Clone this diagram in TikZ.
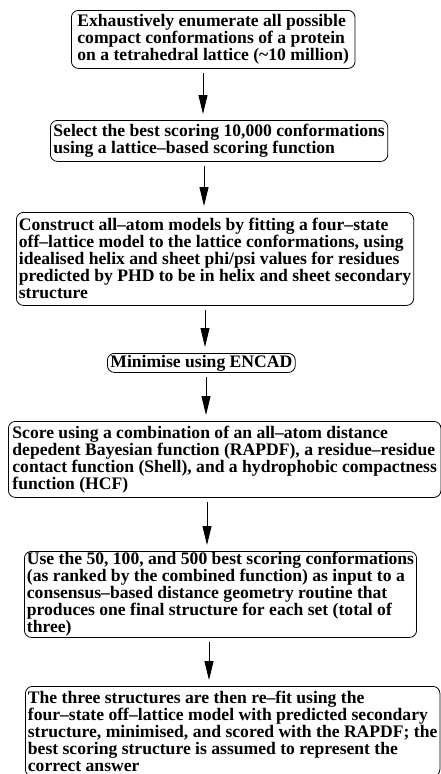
\documentclass[tikz,border=0pt]{standalone}
\usepackage{fontspec}
\setmainfont{Liberation Serif}
\usetikzlibrary{arrows.meta}

\begin{document}
\begin{tikzpicture}[x = 1pt, y = -1pt, > = {Triangle[length = 19pt, width = 9pt]},
	stage/.style = {draw, line width = 0.8pt, rounded corners = 7pt, align = left, anchor = north west, inner ysep = 0pt, font = \bfseries\fontsize{17.6}{17}\selectfont},
	flow/.style = {->, line width = 0.8pt, shorten < = 4pt, shorten > = 6pt}]

	\useasboundingbox (0, 0) rectangle (440, 774);

	% Lattice enumeration
	
	\node [stage, inner xsep = 6pt, minimum height = 58pt] (enumerate) at (71, 10)
		{Exhaustively enumerate all possible\\compact conformations of a protein\\on a tetrahedral lattice (\textasciitilde10 million)};
	
	\node [stage, inner xsep = 3pt, minimum height = 41pt] (select) at (50, 120)
		{Select the best scoring 10,000 conformations\\using a lattice--based scoring function};
	
	% All-atom models
	
	\node [stage, inner xsep = 2.5pt, minimum height = 93pt] (construct) at (16, 212)
		{Construct all--atom models by fitting a four--state\\off--lattice model to the lattice conformations, using\\idealised helix and sheet phi/psi values for residues\\predicted by PHD to be in helix and sheet secondary\\structure};
	
	\node [stage, inner xsep = 3pt, minimum height = 19pt] (minimise) at (107, 353)
		{Minimise using ENCAD};
	
	% Scoring and consensus
	
	\node [stage, inner xsep = 4pt, minimum height = 76pt] (score) at (8, 421)
		{Score using a combination of an all--atom distance\\depedent Bayesian function (RAPDF), a residue--residue\\contact function (Shell), and a hydrophobic compactness\\function (HCF)};
	
	\node [stage, inner xsep = 2.5pt, minimum height = 86pt] (consensus) at (24, 551)
		{Use the 50, 100, and 500 best scoring conformations\\(as ranked by the combined function) as input to a\\consensus--based distance geometry routine that\\produces one final structure for each set (total of\\three)};
	
	\node [stage, inner xsep = 2.5pt, minimum height = 90pt] (refit) at (25, 686)
		{The three structures are then re--fit using the\\four--state off--lattice model with predicted secondary\\structure, minimised, and scored with the RAPDF; the\\best scoring structure is assumed to represent the\\correct answer};
	
	% Flow arrows
	
	\draw [flow] (enumerate.south -| 203, 0) -- (select.north -| 203, 0);
	\draw [flow] (select.south -| 204, 0) -- (construct.north -| 204, 0);
	\draw [flow] (construct.south -| 205, 0) -- (minimise.north -| 205, 0);
	\draw [flow] (minimise.south -| 206, 0) -- (score.north -| 206, 0);
	\draw [flow] (score.south -| 207, 0) -- (consensus.north -| 207, 0);
	\draw [flow] (consensus.south -| 209, 0) -- (refit.north -| 209, 0);
	
\end{tikzpicture}
\end{document}
